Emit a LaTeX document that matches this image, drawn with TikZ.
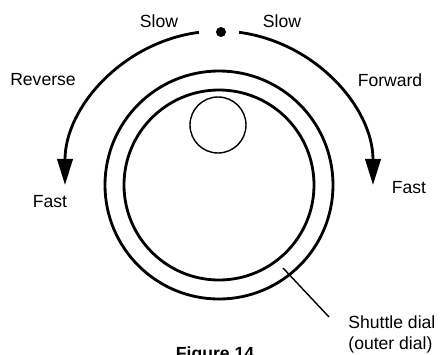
\documentclass[tikz,border=0pt]{standalone}
\usepackage{fontspec}
\setmainfont{Liberation Sans}
\usetikzlibrary{arrows.meta,positioning}

\begin{document}
\begin{tikzpicture}[
  x=0.03cm, y=0.03cm,
  ring/.style={draw=black, line width=2.4pt},
  knob/.style={draw=black, line width=1.2pt},
  sweep/.style={draw=black, line width=2.4pt, -{Triangle[length=0.78cm, width=0.46cm]}},
  lbl/.style={font=\fontsize{15}{17}\selectfont, inner sep=1pt},
  lead/.style={draw=black, line width=1.2pt}
]
\useasboundingbox (0,0) rectangle (442,354);
\coordinate (ctr) at (219,169);
% dial
\draw[ring] (ctr) circle (114);
\draw[ring] (ctr) circle (95);
\draw[knob] (218,229) circle (28);
\fill (221,322) circle (5);
% shuttle arcs
\draw[sweep] ([shift={(97.5:154)}]ctr) arc (97.5:180:154);
\draw[sweep] ([shift={(82.5:154)}]ctr) arc (82.5:0:154);
% labels
\node[lbl] (slowL) at (159,333) {Slow};
\node[lbl] (slowR) at (282,333) {Slow};
\node[lbl] (rev) at (43,274) {Reverse};
\node[lbl] (fwd) at (390,274) {Forward};
\node[lbl] (fastL) at (50,152) {Fast};
\node[lbl] (fastR) at (409,166) {Fast};
\node[lbl, align=left, anchor=west, font=\fontsize{15}{18}\selectfont] (shuttle) at (347,20) {Shuttle dial\\(outer dial)};
\node[lbl, anchor=north, inner sep=0pt, font=\fontsize{15}{17}\selectfont\bfseries] (fig) at (215,7) {Figure 14};
\coordinate (ringpt) at (283,86);
\coordinate (leadend) at (329,37);
\draw[lead] (ringpt) -- (leadend);
\end{tikzpicture}
\end{document}
